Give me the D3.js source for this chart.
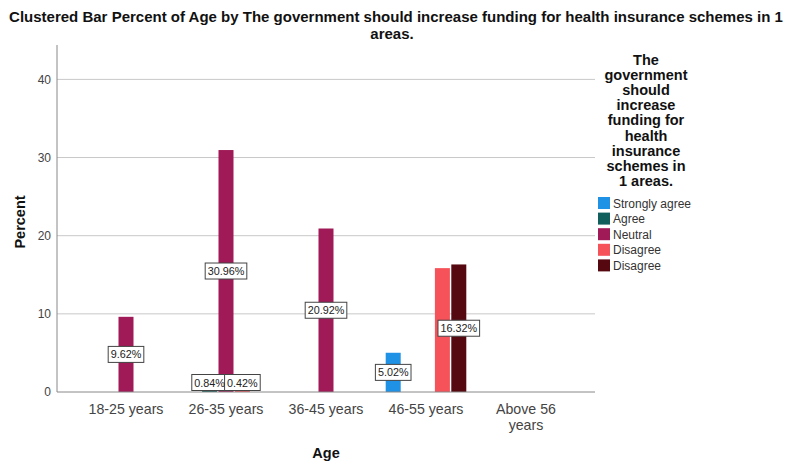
<!DOCTYPE html>
<html><head><meta charset="utf-8">
<script src="https://cdn.jsdelivr.net/npm/d3@7"></script>
<style>body{margin:0;background:#fff}svg{display:block;font-family:"Liberation Sans",Arial,sans-serif}</style>
</head><body><svg id="c" width="785" height="462"></svg>
<script>
const categories = ["18-25 years","26-35 years","36-45 years","46-55 years","Above 56 years"];
const seriesNames = ["Strongly agree","Agree","Neutral","Disagree","Disagree"];
const seriesColors = ["#1f92e6","#115f5c","#9f1a57","#f6525a","#560811"];
// values[series][category]
const strongly = [0,0,0,5.02,0];
const agree    = [0,0.84,0,0,0];
const neutral  = [9.62,30.96,20.92,0,0];
const disagree1= [0,0.42,0,15.85,0];
const disagree2= [0,0,0,16.32,0];
const values = [strongly, agree, neutral, disagree1, disagree2];
// which bars carry a value label
const labeled = [[0,0,0,1,0],[0,1,0,0,0],[1,1,1,0,0],[0,1,0,0,0],[0,0,0,1,0]];
const yTicks = [0,10,20,30,40];
const legendTitle = ["The","government","should","increase","funding for","health","insurance","schemes in","1 areas."];

const svg = d3.select("#c");
const L = 57, R = 595, T = 45, B = 392;
const x = d3.scalePoint().domain(categories).range([L,R]).padding(0.69);
const slot = 16.4, bw = 15;
const y = d3.scaleLinear().domain([0,44.4]).range([B,T]);

// title
svg.append("text").attr("x",396).attr("y",22).attr("text-anchor","middle")
  .attr("font-size",15).attr("font-weight","bold").attr("fill","#111")
  .text("Clustered Bar Percent of Age by The government should increase funding for health insurance schemes in 1");
svg.append("text").attr("x",392).attr("y",39).attr("text-anchor","middle")
  .attr("font-size",15).attr("font-weight","bold").attr("fill","#111").text("areas.");

// gridlines
svg.append("g").selectAll("line").data(yTicks.filter(d=>d>0)).join("line")
  .attr("x1",L).attr("x2",R).attr("y1",d=>y(d)).attr("y2",d=>y(d))
  .attr("stroke","#c8c8c8").attr("stroke-width",1);

// y axis
const ya = svg.append("g").attr("transform",`translate(${L},0)`)
  .call(d3.axisLeft(y).tickValues(yTicks).tickSize(0).tickPadding(6));
ya.select(".domain").remove();
ya.selectAll("text").attr("font-size",12).attr("fill","#444").attr("font-family","Liberation Sans, Arial, sans-serif");
svg.append("line").attr("x1",L).attr("x2",L).attr("y1",T).attr("y2",B).attr("stroke","#888");

// bars
const bars = [];
values.forEach((arr,s)=>arr.forEach((v,c)=>{ if(v>0) bars.push({s,c,v,lab:labeled[s][c]}); }));
svg.append("g").selectAll("rect").data(bars).join("rect")
  .attr("x",d=>x(categories[d.c])+(d.s-2)*slot-bw/2).attr("width",bw)
  .attr("y",d=>y(d.v)).attr("height",d=>B-y(d.v))
  .attr("fill",d=>seriesColors[d.s]);

// x axis line
svg.append("line").attr("x1",L).attr("x2",R).attr("y1",B).attr("y2",B).attr("stroke","#888");

// value labels
const lg = svg.append("g");
bars.filter(d=>d.lab).forEach(d=>{
  const cx = x(categories[d.c])+(d.s-2)*slot;
  const cy = Math.min((y(d.v)+B)/2, B-9.5);
  const t = lg.append("text").attr("x",cx).attr("y",cy+4).attr("text-anchor","middle")
    .attr("font-size",10.8).attr("fill","#222").text(d.v.toFixed(2)+"%");
  const w = t.node().getComputedTextLength()+5;
  lg.insert("rect","text").attr("x",cx-w/2).attr("y",cy-8).attr("width",w).attr("height",16)
    .attr("fill","#fff").attr("stroke","#444").attr("stroke-width",1);
});

// x tick labels
const xt = svg.append("g");
categories.forEach(c=>{
  const t = xt.append("text").attr("x",x(c)).attr("y",414).attr("text-anchor","middle")
    .attr("font-size",14.2).attr("fill","#444");
  if(c==="Above 56 years"){
    t.append("tspan").attr("x",x(c)).text("Above 56");
    t.append("tspan").attr("x",x(c)).attr("dy",16).text("years");
  } else t.text(c);
});

// axis titles
svg.append("text").attr("x",326).attr("y",458).attr("text-anchor","middle")
  .attr("font-size",14.5).attr("font-weight","bold").attr("fill","#111").text("Age");
svg.append("text").attr("transform","translate(25,222) rotate(-90)").attr("text-anchor","middle")
  .attr("font-size",14.5).attr("font-weight","bold").attr("fill","#111").text("Percent");

// legend
legendTitle.forEach((l,i)=>{
  svg.append("text").attr("x",646).attr("y",65+i*15.1).attr("text-anchor","middle")
    .attr("font-size",14.5).attr("font-weight","bold").attr("fill","#111").text(l);
});
seriesNames.forEach((n,i)=>{
  const yy = 203+i*15.6;
  svg.append("rect").attr("x",598).attr("y",yy-6).attr("width",12).attr("height",12).attr("fill",seriesColors[i]);
  svg.append("text").attr("x",613).attr("y",yy+4.5).attr("font-size",12).attr("fill","#333").text(n);
});
</script></body></html>
